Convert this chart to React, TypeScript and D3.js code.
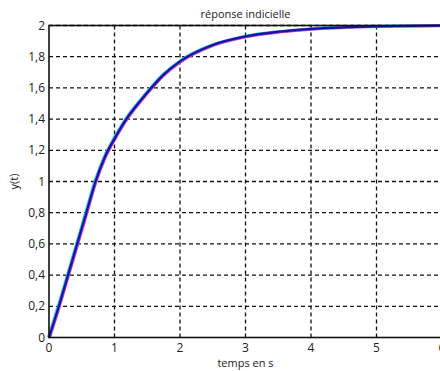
import React from "react";
import * as d3 from "d3";

const timeValues = [0, 0.15, 0.29, 0.43, 0.57, 0.71, 0.85, 1.0, 1.18, 1.39, 1.54, 1.75, 2.0, 2.5, 3.0, 3.5, 4.0, 5.0, 6.0];
const responseValues = [0, 0.2, 0.4, 0.6, 0.8, 1.0, 1.155, 1.275, 1.4, 1.515, 1.59, 1.685, 1.77, 1.875, 1.93, 1.96, 1.978, 1.995, 2.0];
const xTicks = [0, 1, 2, 3, 4, 5, 6];
const yTicks = [0, 0.2, 0.4, 0.6, 0.8, 1, 1.2, 1.4, 1.6, 1.8, 2];
const title = "réponse indicielle";
const xLabel = "temps en s";
const yLabel = "y(t)";

const W = 440;
const H = 371;
const left = 49;
const right = 442;
const top = 25.5;
const bottom = 337.5;

export default function App() {
  const x = d3.scaleLinear().domain([0, 6]).range([left, right]);
  const y = d3.scaleLinear().domain([0, 2]).range([bottom, top]);
  const pts = timeValues.map((t, i) => [t, responseValues[i]] as [number, number]);
  const line = d3
    .line<[number, number]>()
    .x((d) => x(d[0]))
    .y((d) => y(d[1]))
    .curve(d3.curveMonotoneX);
  const fmt = (v: number) => String(Math.round(v * 10) / 10).replace(".", ",");
  const font = "'Open Sans', 'Noto Sans', sans-serif";
  const d = line(pts) || "";
  return (
    <svg
      width={W}
      height={H}
      style={{ position: "absolute", left: 0, top: 0, background: "#fff" }}
      fontFamily={font}
    >
      <rect x={0} y={0} width={W} height={H} fill="#fff" />
      {xTicks.slice(1).map((t) => (
        <line
          key={"gx" + t}
          x1={x(t)}
          x2={x(t)}
          y1={top}
          y2={bottom}
          stroke="#111"
          strokeWidth={1.3}
          strokeDasharray="4,3"
        />
      ))}
      {yTicks.slice(1).map((v) => (
        <line
          key={"gy" + v}
          x1={left}
          x2={right}
          y1={y(v)}
          y2={y(v)}
          stroke="#111"
          strokeWidth={1.3}
          strokeDasharray="4,3"
        />
      ))}
      <path d={d} fill="none" stroke="#2fb8e0" strokeWidth={3} transform="translate(-0.6,0)" />
      <path d={d} fill="none" stroke="#c040c0" strokeWidth={2.8} transform="translate(0.6,0.4)" />
      <path d={d} fill="none" stroke="#1414a8" strokeWidth={2.2} />
      <rect x={left} y={top} width={right - left} height={bottom - top} fill="none" stroke="#111" strokeWidth={1.6} />
      {xTicks.map((t) => (
        <text key={"tx" + t} x={x(t)} y={bottom + 14} textAnchor="middle" fontSize={12} fill="#222">
          {fmt(t)}
        </text>
      ))}
      {yTicks.map((v) => (
        <text key={"ty" + v} x={left - 4} y={y(v) + 4} textAnchor="end" fontSize={12} fill="#222">
          {fmt(v)}
        </text>
      ))}
      <text x={(left + right) / 2} y={18} textAnchor="middle" fontSize={11} fill="#222">
        {title}
      </text>
      <text x={(left + right) / 2} y={367} textAnchor="middle" fontSize={11} fill="#222">
        {xLabel}
      </text>
      <text
        transform={`translate(18,${(top + bottom) / 2}) rotate(-90)`}
        textAnchor="middle"
        fontSize={11}
        fill="#222"
      >
        {yLabel}
      </text>
    </svg>
  );
}
